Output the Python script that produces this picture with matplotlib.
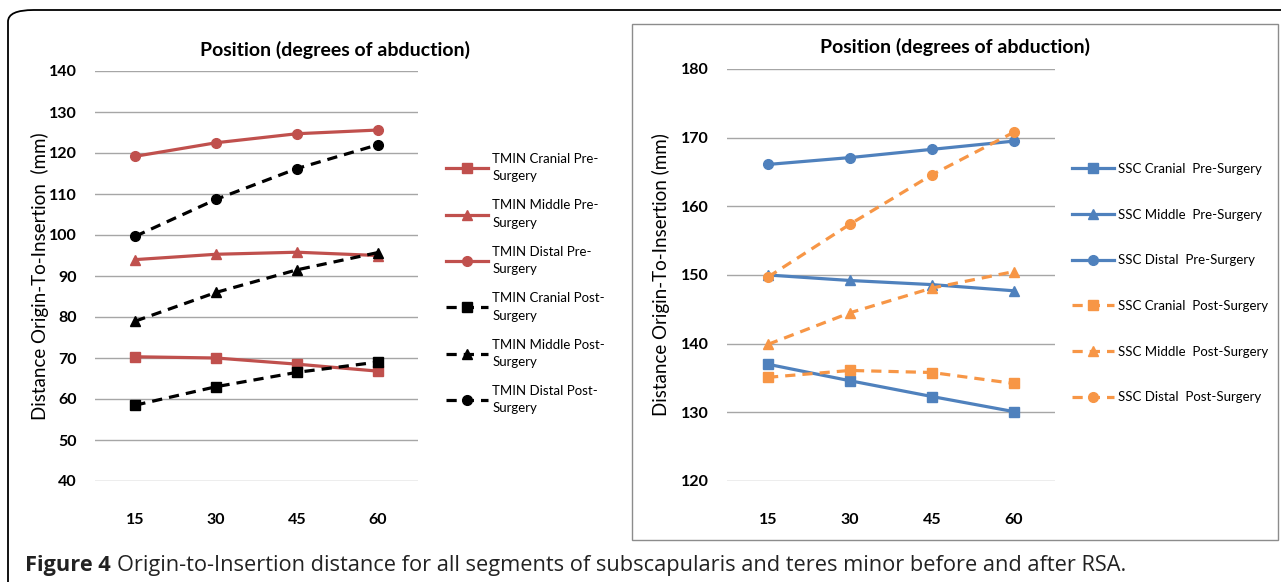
import matplotlib.pyplot as plt
from matplotlib.patches import FancyBboxPatch, Rectangle

# abduction positions
positions = ['15', '30', '45', '60']

# teres minor (TMIN), mm
tmin_cranial_pre = [70.3, 70.0, 68.5, 66.8]
tmin_middle_pre = [94.0, 95.3, 95.8, 95.0]
tmin_distal_pre = [119.2, 122.5, 124.7, 125.6]
tmin_cranial_post = [58.5, 63.0, 66.5, 69.0]
tmin_middle_post = [79.0, 86.0, 91.5, 95.7]
tmin_distal_post = [99.7, 108.7, 116.2, 122.0]

# subscapularis (SSC), mm
ssc_cranial_pre = [137.0, 134.6, 132.3, 130.1]
ssc_middle_pre = [150.0, 149.2, 148.6, 147.7]
ssc_distal_pre = [166.1, 167.1, 168.3, 169.5]
ssc_cranial_post = [135.1, 136.1, 135.8, 134.2]
ssc_middle_post = [139.9, 144.5, 148.1, 150.5]
ssc_distal_post = [149.7, 157.4, 164.6, 170.8]

plt.rcParams['font.family'] = ['Lato', 'DejaVu Sans']

W, H = 1281, 582
fig = plt.figure(figsize=(W / 100, H / 100), dpi=100)

# outer rounded frame and right panel box
fig.add_artist(FancyBboxPatch((8 / W, -0.2), 1.2, 1.2 - 10 / H,
                              boxstyle='round,pad=0,rounding_size=0.02',
                              transform=fig.transFigure, fill=False,
                              edgecolor='black', linewidth=1.3))
fig.add_artist(Rectangle((632 / W, 1 - 540 / H), 646 / W, 516 / H,
                         transform=fig.transFigure, fill=False,
                         edgecolor='#8c8c8c', linewidth=1))

RED = '#C0504D'
BLUE = '#4F81BD'
ORANGE = '#F79646'
DASH = (0, (3.2, 2.2))
x = range(1, 5)


def setup(ax, ymin, ymax, step):
    ax.set_xlim(0.5, 4.5)
    ax.set_ylim(ymin, ymax)
    ax.set_yticks(range(ymin, ymax + 1, step))
    ax.set_xticks(list(x))
    ax.set_xticklabels(positions)
    for s in ax.spines.values():
        s.set_visible(False)
    ax.grid(axis='y', color='#a6a6a6', linewidth=1)
    ax.set_axisbelow(True)
    ax.tick_params(length=0, labelsize=11.5)
    ax.tick_params(axis='x', pad=23)
    ax.tick_params(axis='y', pad=13)
    for t in ax.get_xticklabels() + ax.get_yticklabels():
        t.set_fontweight('bold')


# left: TMIN
ax1 = fig.add_axes([95 / W, 1 - 481 / H, 323 / W, 410 / H])
setup(ax1, 40, 140, 10)
kw = dict(linewidth=2.3, markersize=7)
ax1.plot(x, tmin_cranial_pre, color=RED, marker='s', label='TMIN Cranial Pre-\nSurgery', **kw)
ax1.plot(x, tmin_middle_pre, color=RED, marker='^', label='TMIN Middle Pre-\nSurgery', **kw)
ax1.plot(x, tmin_distal_pre, color=RED, marker='o', label='TMIN Distal Pre-\nSurgery', **kw)
ax1.plot(x, tmin_cranial_post, color='black', marker='s', linestyle=DASH, label='TMIN Cranial Post-\nSurgery', **kw)
ax1.plot(x, tmin_middle_post, color='black', marker='^', linestyle=DASH, label='TMIN Middle Post-\nSurgery', **kw)
ax1.plot(x, tmin_distal_post, color='black', marker='o', linestyle=DASH, label='TMIN Distal Post-\nSurgery', **kw)
ax1.set_ylabel('Distance Origin-To-Insertion  (mm)', fontsize=13.5, labelpad=0)
leg1 = ax1.legend(loc='upper left', bbox_to_anchor=(446 / W, 1 - 153 / H),
                  bbox_transform=fig.transFigure, frameon=False, fontsize=9.5,
                  handlelength=3.2, handletextpad=0.3, labelspacing=1.28,
                  borderaxespad=0, borderpad=0)
for t in leg1.get_texts():
    t.set_linespacing(1.55)
fig.text(335 / W, 1 - 50 / H, 'Position (degrees of abduction)', fontsize=14,
         fontweight='bold', ha='center', va='center')

# right: SSC
ax2 = fig.add_axes([727 / W, 1 - 481 / H, 328 / W, 412 / H])
setup(ax2, 120, 180, 10)
ax2.plot(x, ssc_cranial_pre, color=BLUE, marker='s', label='SSC Cranial  Pre-Surgery', **kw)
ax2.plot(x, ssc_middle_pre, color=BLUE, marker='^', label='SSC Middle  Pre-Surgery', **kw)
ax2.plot(x, ssc_distal_pre, color=BLUE, marker='o', label='SSC Distal  Pre-Surgery', **kw)
ax2.plot(x, ssc_cranial_post, color=ORANGE, marker='s', linestyle=DASH, label='SSC Cranial  Post-Surgery', **kw)
ax2.plot(x, ssc_middle_post, color=ORANGE, marker='^', linestyle=DASH, label='SSC Middle  Post-Surgery', **kw)
ax2.plot(x, ssc_distal_post, color=ORANGE, marker='o', linestyle=DASH, label='SSC Distal  Post-Surgery', **kw)
ax2.set_ylabel('Distance Origin-To-Insertion (mm)', fontsize=13.5, labelpad=8)
ax2.legend(loc='upper left', bbox_to_anchor=(1072 / W, 1 - 163 / H),
           bbox_transform=fig.transFigure, frameon=False, fontsize=9.5,
           handlelength=3.2, handletextpad=0.3, labelspacing=2.55,
           borderaxespad=0, borderpad=0)
fig.text(955 / W, 1 - 47 / H, 'Position (degrees of abduction)', fontsize=14,
         fontweight='bold', ha='center', va='center')

# caption
cap1 = fig.text(25 / W, 1 - 565 / H, 'Figure 4', fontsize=15.7, fontweight='bold',
                va='center', color='#222222', family=['Open Sans', 'DejaVu Sans'])
fig.canvas.draw()
bb = cap1.get_window_extent()
fig.text(bb.x1 / W + 6 / W, 1 - 565 / H,
         'Origin-to-Insertion distance for all segments of subscapularis and teres minor before and after RSA.',
         fontsize=15.7, va='center', color='#222222', family=['Open Sans', 'DejaVu Sans'])

fig.savefig('out.png', dpi=100)
